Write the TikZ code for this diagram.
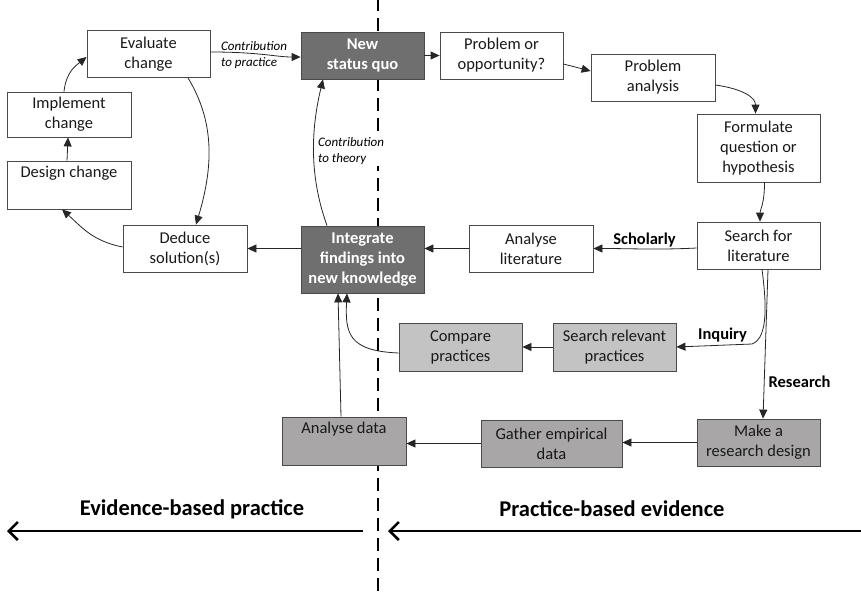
\documentclass[tikz,border=0pt]{standalone}
\usepackage{fontspec}
\setmainfont{Carlito}
\usetikzlibrary{arrows.meta,calc}
\definecolor{boxdark}{HTML}{6F6F6F}
\definecolor{boxmid}{HTML}{A8A6A6}
\definecolor{boxlight}{HTML}{C3C3C3}
\definecolor{edge}{HTML}{4A4A4A}
\begin{document}
\begin{tikzpicture}[x=1pt,y=-1pt,
  box/.style={draw=edge, line width=0.8pt, fill=white, minimum width=123pt,
    minimum height=47pt, inner sep=0pt, align=center,
    font=\fontsize{16.5}{20}\selectfont, text=black!90},
  darkbox/.style={box, fill=boxdark, text=white,
    font=\fontsize{16.5}{20}\selectfont\bfseries},
  midbox/.style={box, fill=boxmid},
  lightbox/.style={box, fill=boxlight},
  arr/.style={draw=black!85, line width=0.8pt, -{Triangle[length=9pt,width=8pt]}},
  note/.style={font=\fontsize{13}{16}\selectfont\itshape, align=left, inner sep=1pt},
  route/.style={font=\fontsize{16.5}{20}\selectfont\bfseries, inner sep=0pt},
  side/.style={font=\fontsize{22.5}{27}\selectfont\bfseries, inner sep=0pt},
  bigarrow/.style={line width=2.6pt, -{Straight Barb[length=9pt,width=18pt]}}
]
\useasboundingbox (0,0) rectangle (861,597);

% divider between the two halves
\draw[line width=2.6pt, dash pattern=on 13pt off 7pt] (378,-2) coordinate (divtop) -- (378,599) coordinate (divbot);

% practice cycle (left)
\node[box] (eval)   at (148.5,54)  {Evaluate\\change};
\node[box, minimum width=124pt, minimum height=45pt] (impl) at (69,114.5) {Implement\\change};
\node[box, minimum width=124pt, minimum height=48pt] (design) at (69,185) {Design change\\\strut};
\node[box, minimum width=124pt] (deduce) at (185,248.5) {Deduce\\solution(s)};

% central knowledge boxes
\node[darkbox] (nsq)   at (362.5,55.5) {New\\status quo};
\node[darkbox, minimum height=67pt] (integ) at (362.5,259.5) {Integrate\\findings into\\new knowledge};

% research cycle (right)
\node[box] (prob)   at (501.5,55.5) {Problem or\\opportunity?};
\node[box, minimum width=124pt] (anal) at (653,77.5) {Problem\\analysis};
\node[box, minimum height=68pt] (form) at (758.5,148) {Formulate\\question or\\hypothesis};
\node[box] (search) at (758.5,245.5) {Search for\\literature};
\node[box, minimum width=124pt] (alit) at (531,248.5) {Analyse\\literature};
\node[lightbox, minimum height=48pt] (comp) at (460.5,347) {Compare\\practices};
\node[lightbox, minimum height=48pt] (srel) at (614.5,347) {Search relevant\\practices};
\node[midbox, minimum width=124pt, minimum height=48pt] (adata) at (344,441) {Analyse data\\\strut};
\node[midbox, minimum width=141pt] (gather) at (551.5,443.5) {Gather empirical\\data};
\node[midbox] (mrd) at (758.5,442.5) {Make a\\research design};

% italic contribution labels
\node[note, anchor=west] (cpract) at (220,55) {Contribution\\to practice};
\node[note, anchor=west, fill=white] (ctheory) at (317,151) {Contribution\\to theory};

% route labels
\node[route] (lscholar) at (644.5,240) {Scholarly};
\node[route] (linquiry) at (722.5,335) {Inquiry};
\node[route] (lresearch) at (799.5,382) {Research};

% connectors
\draw[arr] ([yshift=2pt]eval.east) .. controls +(50,0) and +(-25,0) .. ([yshift=-1.5pt]nsq.west);
\draw[arr] (nsq.east) -- (prob.west);
\draw[arr] ([yshift=-8.5pt]prob.east) -- ([yshift=6.5pt]anal.west);
\draw[arr] ([yshift=-7.5pt]anal.east) .. controls +(28,4) and +(0,-16) .. ([xshift=-3pt]form.north);
\draw[arr] ([xshift=6pt]form.south) .. controls +(0,22) and +(0,-12) .. ([xshift=1.5pt]search.north);
\draw[arr] ([yshift=-2.5pt]search.west) .. controls +(-40,2) and +(40,0) .. (alit.east);
\draw[arr] (alit.west) -- (alit.west -| integ.east);
\draw[arr] (deduce.east -| integ.west) -- (deduce.east);
\draw[arr] ([yshift=1.5pt]deduce.west) .. controls +(-30,-6) and +(20,18) .. ([xshift=-7pt]design.south);
\draw[arr] ([xshift=-2pt]design.north) -- ([xshift=-1pt]impl.south);
\draw[arr] ([xshift=-5pt]impl.north) .. controls +(2,-20) and +(-10,8) .. ([yshift=-3pt]eval.west);
\draw[arr] ([xshift=39.5pt]eval.south) .. controls +(26,43) and +(18,-60) .. ([xshift=11pt]deduce.north);
\draw[arr] ([xshift=-35.5pt]integ.north) .. controls +(-18,-50) and +(-12,50) .. ([xshift=-39.5pt]nsq.south);
\draw[arr] ([xshift=3.5pt]search.south) .. controls (766,300) and (769,338) .. (752,344) -- (srel.east);
\draw[arr] ([xshift=9.5pt]search.south) -- ([xshift=4.5pt]mrd.north);
\draw[arr] (srel.west) -- (comp.east);
\draw[arr] ([yshift=-6pt]comp.west) .. controls +(-50,-2) and +(-2,40) .. ([xshift=-15.5pt]integ.south);
\draw[arr] ([xshift=-3pt]adata.north) -- ([xshift=-24.5pt]integ.south);
\draw[arr] (mrd.west) -- (mrd.west -| gather.east);
\draw[arr] (gather.west) -- (gather.west -| adata.east);

% the two directions
\coordinate (ebpstart) at (363,531);
\coordinate (ebpend) at (7,531);
\coordinate (pbestart) at (870,531);
\coordinate (pbeend) at (388,531);
\draw[bigarrow] (ebpstart) -- (ebpend);
\draw[bigarrow] (pbestart) -- (pbeend);
\node[side] (ebp) at (192,509) {Evidence-based practice};
\node[side] (pbe) at (612,509) {Practice-based evidence};
\end{tikzpicture}
\end{document}
